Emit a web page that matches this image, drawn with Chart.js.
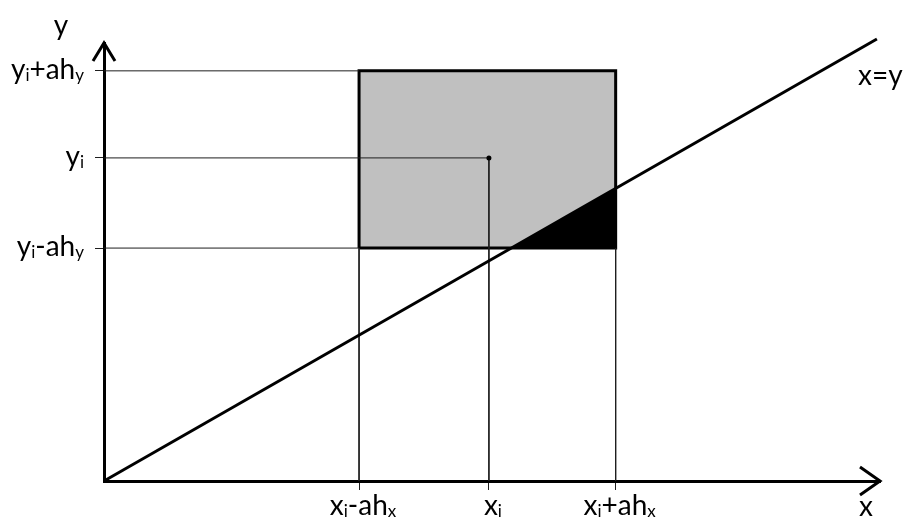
<!DOCTYPE html>
<html>
<head>
<meta charset="utf-8">
<script src="https://cdn.jsdelivr.net/npm/chart.js@4"></script>
<style>
  html, body { margin: 0; padding: 0; background: #fff; }
  #wrap { width: 904px; height: 517px; }
</style>
</head>
<body>
<div id="wrap"><canvas id="diagram"></canvas></div>
<script>
// --- data ---
const xTickValues = [3.3, 4.98, 6.62];            // x_i-ah_x, x_i, x_i+ah_x
const xTickLabels = ['x_i-ah_x', 'x_i', 'x_i+ah_x'];
const yTickValues = [5.27, 7.31, 9.28];           // y_i-ah_y, y_i, y_i+ah_y
const yTickLabels = ['y_i-ah_y', 'y_i', 'y_i+ah_y'];
const diagonalX = [0, 10];                        // the x=y line
const diagonalLabel = 'x=y';
const axisTitleX = 'x';
const axisTitleY = 'y';
const axisMaxX = 10.04;
const axisMaxY = 9.91;

const [xLo, xMid, xHi] = xTickValues;
const [yLo, yMid, yHi] = yTickValues;

const FONT = 'Lato, "Open Sans", sans-serif';
const INK = '#000';
const GUIDE = '#1e1e1e';

// cell (rectangle) around the point
const cellPoints = [
    { x: xLo, y: yLo }, { x: xLo, y: yHi }, { x: xHi, y: yHi },
    { x: xHi, y: yLo }, { x: xLo, y: yLo }
];
// part of the cell below x=y
const cornerPoints = [
    { x: yLo, y: yLo }, { x: xHi, y: yLo }, { x: xHi, y: xHi }, { x: yLo, y: yLo }
];
// thin guide lines to the axes
const guideSegments = [
    [{ x: 0, y: yHi }, { x: xLo, y: yHi }],
    [{ x: 0, y: yMid }, { x: xMid, y: yMid }],
    [{ x: 0, y: yLo }, { x: xLo, y: yLo }],
    [{ x: xLo, y: yLo }, { x: xLo, y: 0 }],
    [{ x: xMid, y: yMid }, { x: xMid, y: 0 }],
    [{ x: xHi, y: yLo }, { x: xHi, y: 0 }]
];

const datasets = [
    {
        data: cellPoints, order: 6, fill: 'shape',
        backgroundColor: '#c0c0c0', borderColor: INK, borderWidth: 3,
        pointRadius: 0, borderJoinStyle: 'miter'
    },
    {
        data: cornerPoints, order: 5, fill: 'shape',
        backgroundColor: INK, borderColor: INK, borderWidth: 1, pointRadius: 0
    }
];
guideSegments.forEach(seg => {
    datasets.push({
        data: seg, order: 4, fill: false,
        borderColor: GUIDE, borderWidth: 1, pointRadius: 0
    });
});
datasets.push({
    data: diagonalX.map(v => ({ x: v, y: v })), order: 2, fill: false,
    borderColor: INK, borderWidth: 3, pointRadius: 0, clip: false
});
datasets.push({
    data: [{ x: xMid, y: yMid }], order: 1, showLine: false,
    pointRadius: 2.5, pointBackgroundColor: INK, pointBorderWidth: 0
});

// draws "y_i+ah_y" style text with small subscripts
function drawRich(ctx, text, x, y, align, size) {
    const subSize = Math.round(size * 0.6);
    const parts = [];
    text.split(/(_.)/).forEach(p => {
        if (!p) return;
        if (p[0] === '_') parts.push({ t: p[1], sub: true });
        else parts.push({ t: p, sub: false });
    });
    let total = 0;
    parts.forEach(p => {
        ctx.font = (p.sub ? subSize : size) + 'px ' + FONT;
        p.w = ctx.measureText(p.t).width;
        total += p.w;
    });
    let cx = x;
    if (align === 'right') cx = x - total;
    else if (align === 'center') cx = x - total / 2;
    ctx.textAlign = 'left';
    ctx.textBaseline = 'alphabetic';
    parts.forEach(p => {
        ctx.font = (p.sub ? subSize : size) + 'px ' + FONT;
        ctx.fillText(p.t, cx, p.sub ? y + 2 : y);
        cx += p.w;
    });
}

const decorPlugin = {
    id: 'decor',
    afterDraw(chart) {
        const ctx = chart.ctx;
        const area = chart.chartArea;
        const xs = chart.scales.x;
        const ys = chart.scales.y;
        ctx.save();
        // arrow heads
        ctx.strokeStyle = INK;
        ctx.lineWidth = 3;
        ctx.lineJoin = 'miter';
        ctx.beginPath();
        ctx.moveTo(area.left - 11, area.top + 18);
        ctx.lineTo(area.left, area.top);
        ctx.lineTo(area.left + 11, area.top + 18);
        ctx.moveTo(area.right - 20, area.bottom - 14);
        ctx.lineTo(area.right, area.bottom);
        ctx.lineTo(area.right - 20, area.bottom + 14);
        ctx.stroke();

        ctx.fillStyle = INK;
        yTickValues.forEach((v, i) => {
            drawRich(ctx, yTickLabels[i], area.left - 20, ys.getPixelForValue(v) + 8, 'right', 28);
        });
        xTickValues.forEach((v, i) => {
            drawRich(ctx, xTickLabels[i], xs.getPixelForValue(v) + 4, area.bottom + 34, 'center', 28);
        });
        drawRich(ctx, axisTitleY, area.left - 43, area.top - 8, 'center', 28);
        drawRich(ctx, axisTitleX, area.right - 14, area.bottom + 35, 'center', 28);
        drawRich(ctx, diagonalLabel, area.right - 22, ys.getPixelForValue(8.95), 'left', 28);
        ctx.restore();
    }
};

new Chart(document.getElementById('diagram'), {
    type: 'line',
    data: { datasets },
    options: {
        responsive: true,
        maintainAspectRatio: false,
        animation: false,
        events: [],
        layout: { padding: { top: 43, right: 24, left: 0, bottom: 0 } },
        plugins: { legend: { display: false }, tooltip: { enabled: false } },
        scales: {
            x: {
                type: 'linear', min: 0, max: axisMaxX,
                afterBuildTicks: s => { s.ticks = xTickValues.map(v => ({ value: v })); },
                afterFit: s => { s.height = 36; },
                grid: { drawOnChartArea: false, tickLength: 9, color: GUIDE, lineWidth: 1 },
                border: { color: INK, width: 3 },
                ticks: { display: false }
            },
            y: {
                type: 'linear', min: 0, max: axisMaxY,
                afterBuildTicks: s => { s.ticks = yTickValues.map(v => ({ value: v })); },
                afterFit: s => { s.width = 104; },
                grid: { drawOnChartArea: false, tickLength: 9, color: GUIDE, lineWidth: 1 },
                border: { color: INK, width: 3 },
                ticks: { display: false }
            }
        }
    },
    plugins: [decorPlugin]
});
</script>
</body>
</html>
